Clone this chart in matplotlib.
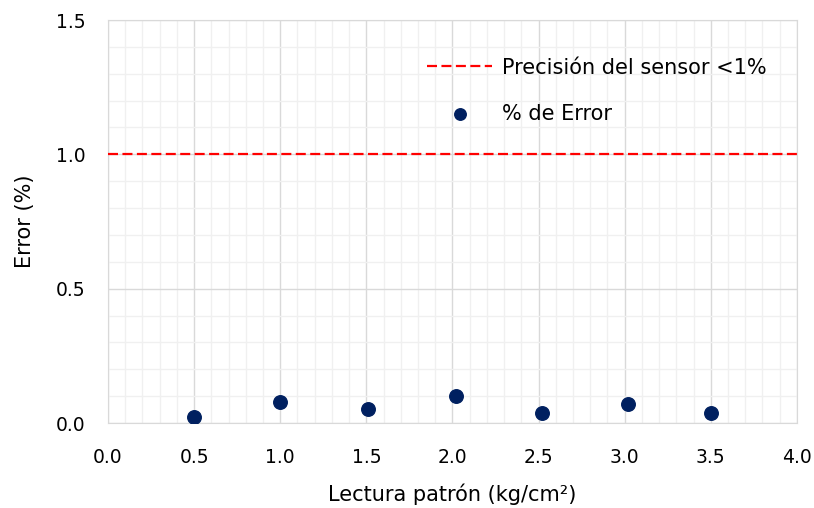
import numpy as np
import matplotlib.pyplot as plt
from matplotlib.ticker import MultipleLocator

# data
lectura = [0.5, 1.0, 1.51, 2.02, 2.52, 3.02, 3.5]
error_pct = [0.022, 0.078, 0.053, 0.100, 0.037, 0.071, 0.036]
precision = 1.0

plt.rcParams['font.family'] = ['DejaVu Sans']

fig = plt.figure(figsize=(8.14, 5.08), dpi=100)
ax = fig.add_axes([0.1327, 0.1673, 0.979 - 0.1327, 0.9606 - 0.1673])

ax.axhline(precision, color="#ff0000", linestyle=(0, (4.5, 2.0)), linewidth=1.6,
           label="Precisión del sensor <1%", zorder=3)
ax.scatter(lectura, error_pct, s=95, color="#002060", label="% de Error", zorder=4)

ax.set_xlim(0, 4)
ax.set_ylim(0, 1.5)
ax.xaxis.set_major_locator(MultipleLocator(0.5))
ax.xaxis.set_minor_locator(MultipleLocator(0.1))
ax.yaxis.set_major_locator(MultipleLocator(0.5))
ax.yaxis.set_minor_locator(MultipleLocator(0.1))
ax.xaxis.set_major_formatter(lambda v, p: f"{v:.1f}")
ax.yaxis.set_major_formatter(lambda v, p: f"{v:.1f}")

ax.grid(which="major", color="#d9d9d9", linewidth=1.0)
ax.grid(which="minor", color="#f0f0f0", linewidth=1.0)
ax.set_axisbelow(True)
ax.tick_params(which="both", length=0, labelsize=13.5, colors="#000000")
ax.tick_params(axis="x", pad=18)
ax.tick_params(axis="y", pad=16)
for s in ax.spines.values():
    s.set_color("#d9d9d9")

ax.set_xlabel("Lectura patrón (kg/cm²)", fontsize=15, labelpad=12)
ax.set_ylabel("Error (%)", fontsize=15, labelpad=15)

ax.legend(loc="center left", bbox_to_anchor=(0.4365, 0.825), frameon=False, fontsize=15,
          handlelength=3.1, labelspacing=1.25, handletextpad=0.5, markerscale=0.85)

plt.savefig("out.png", dpi=100)
